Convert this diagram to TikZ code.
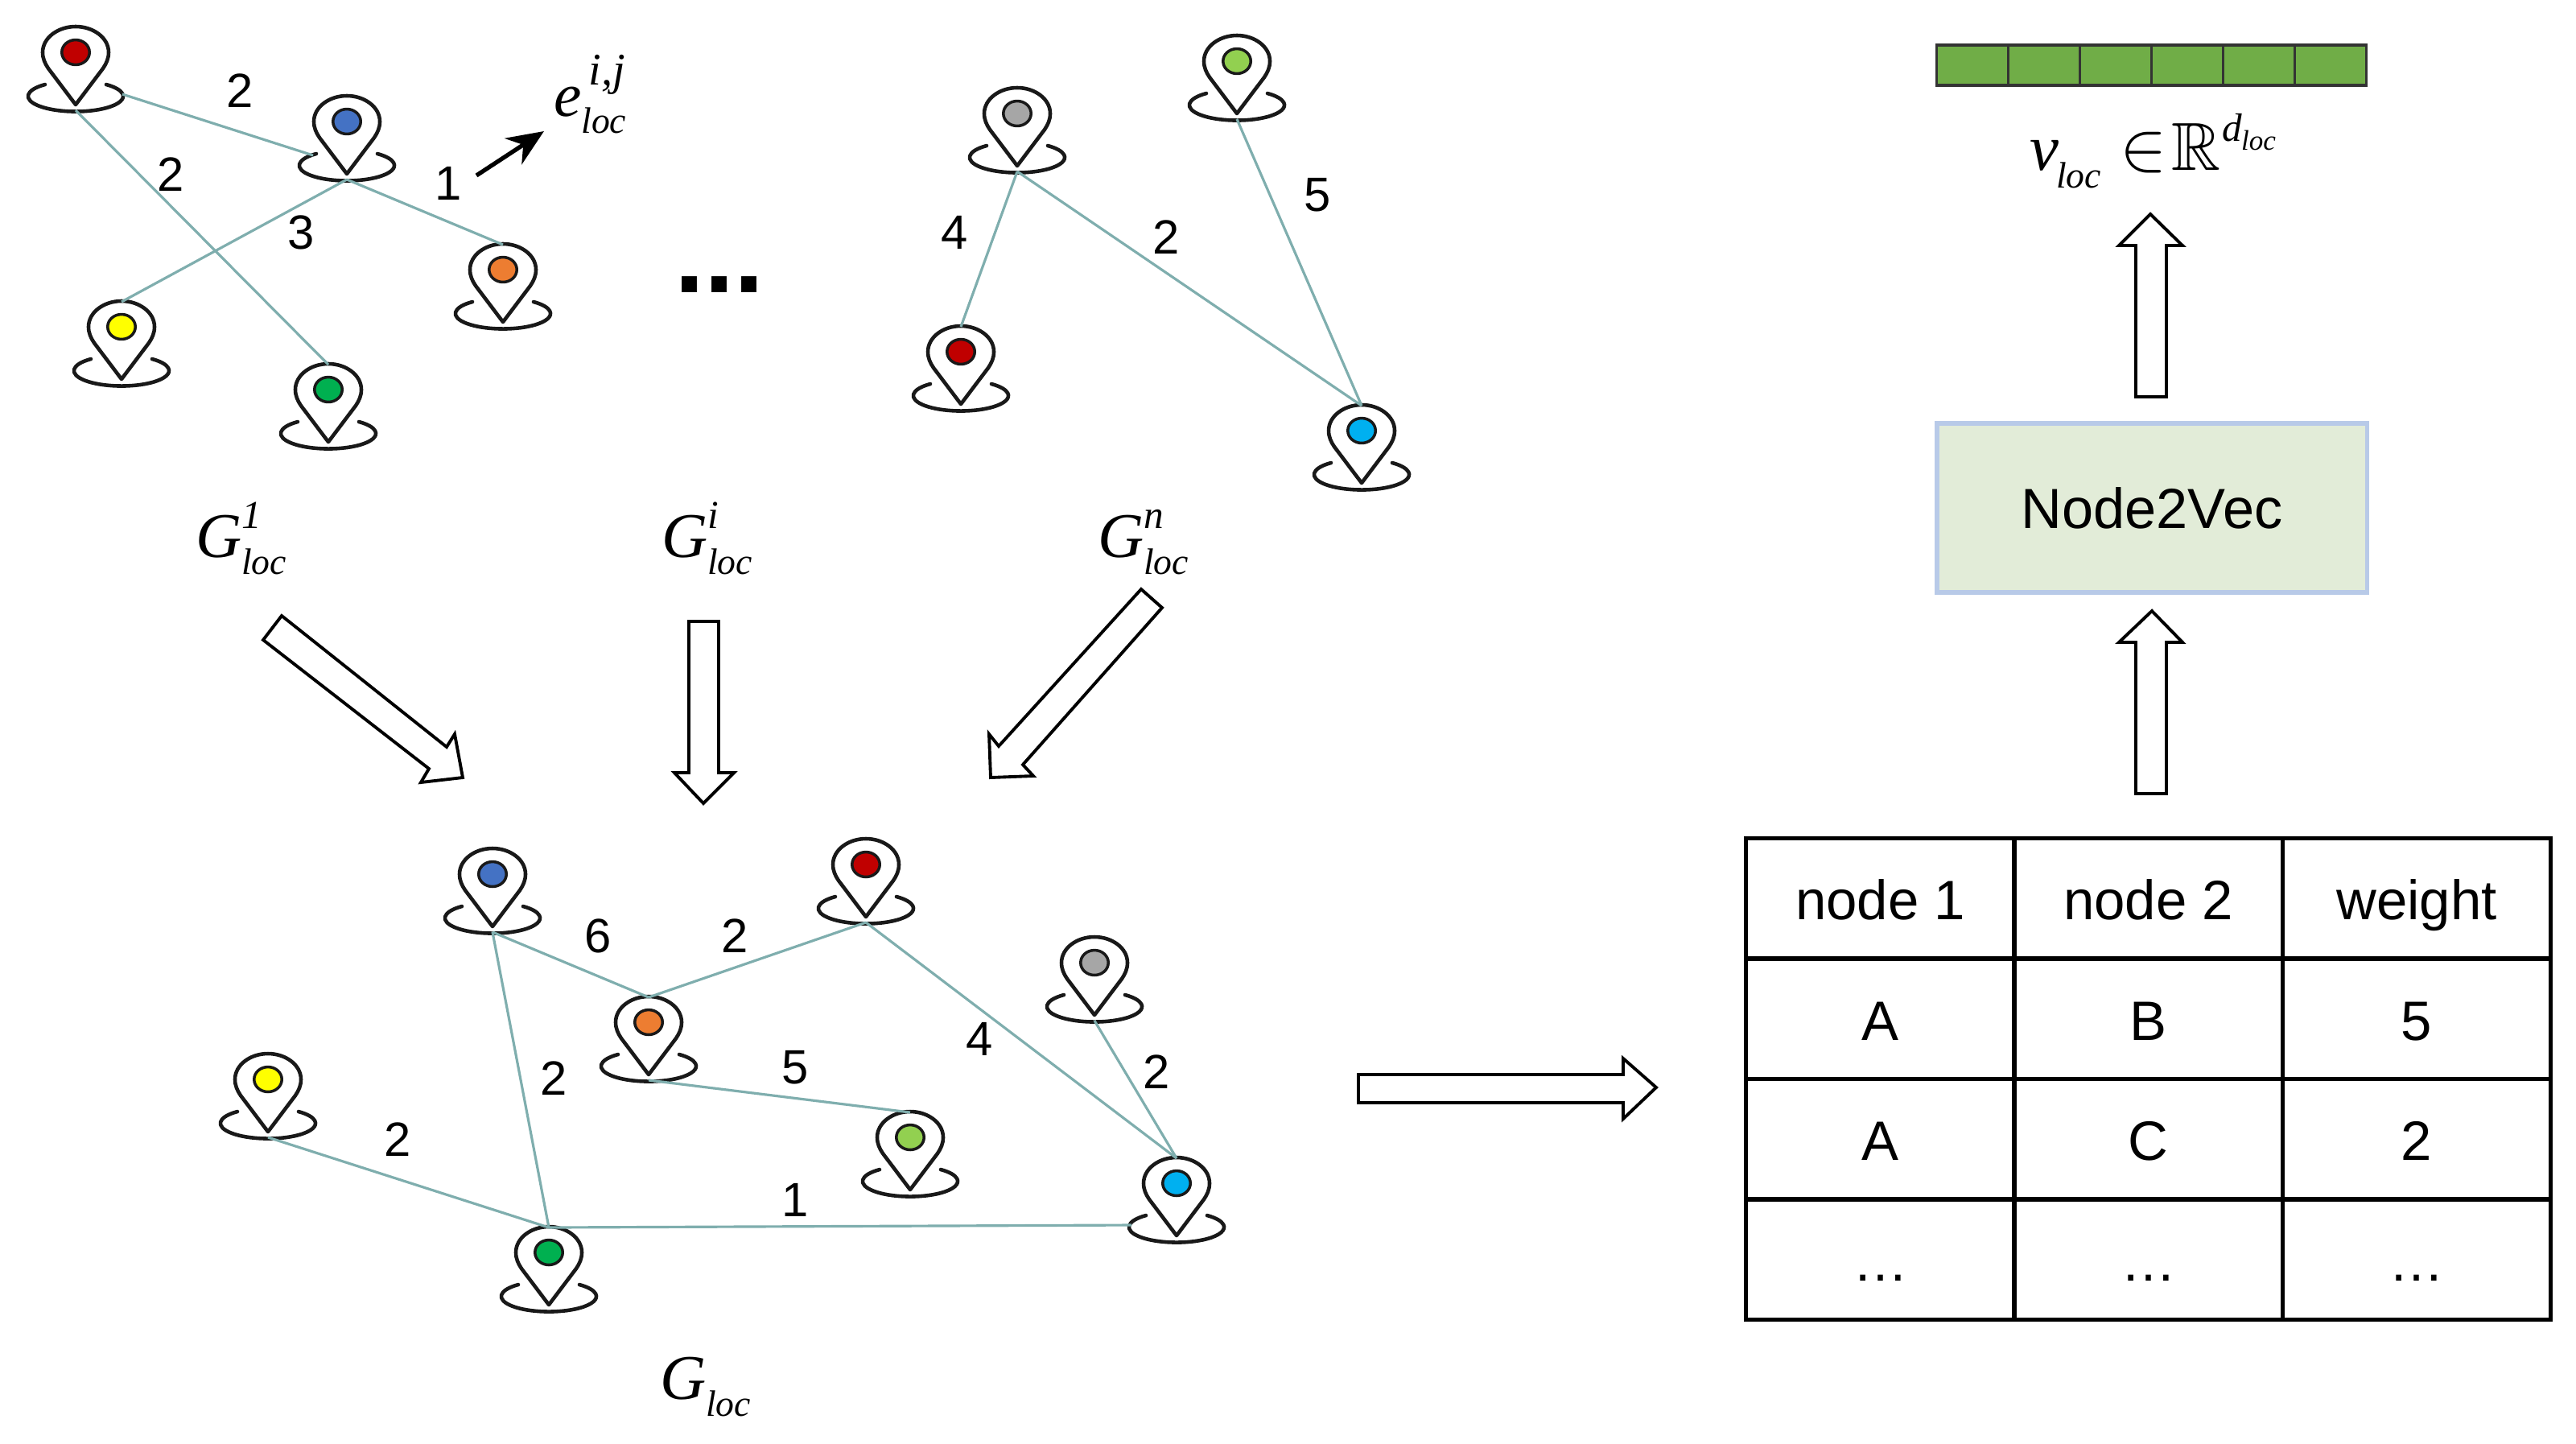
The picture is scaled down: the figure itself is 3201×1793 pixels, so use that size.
\documentclass[tikz,border=0pt]{standalone}
\usepackage{amssymb}
\usepackage{fontspec}
\usetikzlibrary{arrows.meta}
\setmainfont{Liberation Sans}
\newfontfamily\tmf{Liberation Serif}
\definecolor{edgecol}{HTML}{7FAEAE}
\definecolor{barfill}{HTML}{70AD47}
\definecolor{boxfill}{HTML}{E2ECD8}
\definecolor{boxline}{HTML}{B8CAE8}
\newcommand{\fs}[1]{\fontsize{#1}{#1}\selectfont}
\newcommand{\pin}[4]{%
  \begin{scope}[shift={(#2,#3)}]
    \definecolor{pindot}{HTML}{#4}
    \coordinate (#1) at (0,0);
    \coordinate (#1-t) at (0,-31);
    \coordinate (#1-b) at (0,72);
    \coordinate (#1-r) at (58,52);
    \coordinate (#1-l) at (-42,42);
    \coordinate (#1-ll) at (-56,52);
    \draw[pinline,fill=white] (0,65) -- (-34,20) .. controls (-38,14) and (-41,8) .. (-41,0)
      .. controls (-41,-18) and (-22,-32) .. (0,-32) .. controls (22,-32) and (41,-18) .. (41,0)
      .. controls (41,8) and (38,14) .. (34,20) -- cycle;
    \draw[pinline] (-38,40) arc[start angle=130,end angle=410,x radius=16.8pt,y radius=5.4pt];
    \draw[pinline,fill=pindot,line width=1pt] (0,0) ellipse[x radius=4.9pt,y radius=4.4pt];
  \end{scope}}
% name, x, baseline y, letter, sup, sub
\newcommand{\mlab}[6]{\node[mathlab] (#1) at (#2,#3)
  {\fs{22.5}\itshape #4\rlap{\raisebox{.35cm}{\fs{14}\itshape #5}}\raisebox{-.21cm}{\fs{13}\itshape #6}};}
\tikzset{
  pinline/.style={draw=black!90,line width=1.3pt,line cap=round,line join=round},
  edgeline/.style={draw=edgecol,line width=.9pt},
  hollow/.style={draw=black,line width=1.1pt,fill=white,line join=miter},
  mathlab/.style={anchor=base west,inner sep=0pt,outer sep=0pt,font=\tmf},
  numlab/.style={inner sep=0pt,font=\fs{17},text height=12pt,text depth=0pt},
  cell/.style={draw=black,line width=1.4pt,minimum width=3.33cm,minimum height=1.495cm,inner sep=0pt,font=\fs{19.6},text height=14.8pt,text depth=0pt},
  barcell/.style={draw=black!80,line width=1pt,fill=barfill,minimum width=.89cm,minimum height=.5cm,inner sep=0pt}
}
\begin{document}
\begin{tikzpicture}[x=0.01cm,y=-0.01cm]
\path[use as bounding box,fill=white] (0,0) rectangle (3201,1793);
% top-left graph
\pin{aR}{94}{65}{C00000}
\pin{aB}{431}{151}{4472C4}
\pin{aO}{625}{335}{ED7D31}
\pin{aY}{151}{406}{FFFF00}
\pin{aG}{408}{484}{00B050}
\draw[edgeline] (aR-r) -- (aB-l);
\draw[edgeline] (aR-b) -- (aG-t);
\draw[edgeline] (aB-b) -- (aO-t);
\draw[edgeline] (aB-b) -- (aY-t);
% top-right graph
\pin{bS}{1264}{141}{A6A6A6}
\pin{bL}{1537}{76}{92D050}
\pin{bR}{1194}{437}{C00000}
\pin{bC}{1692}{535}{00B0F0}
\draw[edgeline] (bS-b) -- (bR-t);
\draw[edgeline] (bS-b) -- (bC-t);
\draw[edgeline] (bL-b) -- (bC-t);
% merged graph
\pin{cB}{612}{1086}{4472C4}
\pin{cR}{1076}{1074}{C00000}
\pin{cS}{1360}{1196}{A6A6A6}
\pin{cO}{806}{1270}{ED7D31}
\pin{cY}{333}{1341}{FFFF00}
\pin{cL}{1131}{1413}{92D050}
\pin{cC}{1462}{1470}{00B0F0}
\pin{cG}{682}{1556}{00B050}
\draw[edgeline] (cB-b) -- (cO-t);
\draw[edgeline] (cB-b) -- (cG-t);
\draw[edgeline] (cR-b) -- (cO-t);
\draw[edgeline] (cR-b) -- (cC-t);
\draw[edgeline] (cS-b) -- (cC-t);
\draw[edgeline] (cO-b) -- (cL-t);
\draw[edgeline] (cY-b) -- (cG-t);
\draw[edgeline] (cG-t) -- (cC-ll);
% weights
\node[numlab] (n1) at (298,112) {2};
\node[numlab] (n2) at (212,216) {2};
\node[numlab] (n3) at (557,227) {1};
\node[numlab] (n4) at (374,288) {3};
\node[numlab] (n5) at (1186,288) {4};
\node[numlab] (n6) at (1449,294) {2};
\node[numlab] (n7) at (1637,241) {5};
\node[numlab] (n8) at (743,1162) {6};
\node[numlab] (n9) at (913,1162) {2};
\node[numlab] (n10) at (688,1339) {2};
\node[numlab] (n11) at (988,1325) {5};
\node[numlab] (n12) at (1217,1290) {4};
\node[numlab] (n13) at (1437,1331) {2};
\node[numlab] (n14) at (494,1415) {2};
\node[numlab] (n15) at (988,1490) {1};
% edge annotation
\node[mathlab] (eij) at (688,144) {\fs{22}\itshape e\rlap{\raisebox{.38cm}{\fs{16}\itshape\,i,j}}\raisebox{-.21cm}{\fs{13}\itshape loc}};
\coordinate (ea) at (592,218);
\coordinate (eb) at (676,163);
\draw[-{Stealth[length=13pt,width=11pt]},line width=1.5pt] (ea) -- (eb);
\node[inner sep=0pt,font=\bfseries\fs{38}] (dots) at (894,354) {...};
% graph labels
\mlab{g1}{243}{692}{G}{1}{loc}
\mlab{gi}{822}{692}{G}{i}{loc}
\mlab{gn}{1364}{692}{G}{n}{loc}
\mlab{gl}{820}{1738}{G}{}{loc}
% hollow arrows
\draw[hollow] (350,765) -- (327,795) -- (533,955) -- (523,972) -- (575,966) -- (565,912) -- (555,928) -- cycle;
\draw[hollow] (856,772) -- (893,772) -- (893,960) -- (912,960) -- (874,998) -- (838,960) -- (856,960) -- cycle;
\draw[hollow] (1418,732) -- (1444,755) -- (1271,950) -- (1284,964) -- (1231,966) -- (1229,912) -- (1241,927) -- cycle;
\draw[hollow] (2654,493) -- (2654,305) -- (2633,305) -- (2672,266) -- (2712,305) -- (2692,305) -- (2692,493) -- cycle;
\draw[hollow] (2654,986) -- (2654,798) -- (2633,798) -- (2674,759) -- (2712,798) -- (2692,798) -- (2692,986) -- cycle;
\draw[hollow] (1688,1335) -- (2017,1335) -- (2017,1315) -- (2058,1351) -- (2017,1390) -- (2017,1370) -- (1688,1370) -- cycle;
% vector
\foreach \nm/\xx in {1/2451,2/2540,3/2629,4/2718,5/2807,6/2896}{
  \node[barcell] (bar\nm) at (\xx,81) {};
}
\node[mathlab] (vv) at (2522,211) {\fs{23}\itshape v};
\node[mathlab] (vs) at (2555,233) {\fs{13}\itshape loc};
\node[inner sep=0pt,anchor=base west] (vin) at (2634,211) {\fs{23}$\in$};
\node[inner sep=0pt,anchor=base west] (vr) at (2698,211) {\fs{24}$\mathbb{R}$};
\node[mathlab] (vd) at (2761,175) {\fs{14}\itshape d};
\node[mathlab] (vds) at (2785,186) {\fs{10}\itshape loc};
% Node2Vec
\node[draw=boxline,fill=boxfill,line width=1.5pt,minimum width=5.34cm,minimum height=2.1cm,inner sep=0pt,font=\fs{20}] (nv) at (2674,631) {Node2Vec};
% table
\node[cell] (t11) at (2336.5,1116) {node 1};
\node[cell] (t12) at (2669.5,1116) {node 2};
\node[cell] (t13) at (3003,1116) {weight};
\node[cell] (t21) at (2336.5,1266) {A};
\node[cell] (t22) at (2669.5,1266) {B};
\node[cell] (t23) at (3003,1266) {5};
\node[cell] (t31) at (2336.5,1415) {A};
\node[cell] (t32) at (2669.5,1415) {C};
\node[cell] (t33) at (3003,1415) {2};
\node[cell] (t41) at (2336.5,1565) {…};
\node[cell] (t42) at (2669.5,1565) {…};
\node[cell] (t43) at (3003,1565) {…};
\end{tikzpicture}
\end{document}
